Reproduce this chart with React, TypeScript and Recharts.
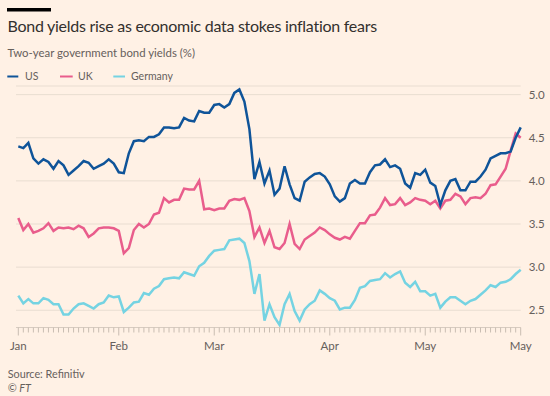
import { LineChart, Line, XAxis, YAxis, CartesianGrid } from 'recharts';

// business days shown on the axis (2023)
const janDays = [3, 4, 5, 6, 9, 10, 11, 12, 13, 17, 18, 19, 20, 23, 24, 25, 26, 27, 30, 31];
const febDays = [1, 2, 3, 6, 7, 8, 9, 10, 13, 14, 15, 16, 17, 21, 22, 23, 24, 27, 28];
const marDays = [1, 2, 3, 6, 7, 8, 9, 10, 13, 14, 15, 16, 17, 20, 21, 22, 23, 24, 27, 28, 29, 30, 31];
const aprDays = [3, 4, 5, 6, 10, 11, 12, 13, 14, 17, 18, 19, 20, 21, 24, 25, 26, 27, 28];
const mayDays = [1, 2, 3, 4, 5, 8, 9, 10, 11, 12, 15, 16, 17, 18, 19, 22, 23, 24, 25, 26];

const monthNames = ['Jan', 'Feb', 'Mar', 'Apr', 'May'];

// two-year yields, %
const usYield = [
  4.40, 4.38, 4.44, 4.26, 4.20, 4.25, 4.22, 4.14, 4.23, 4.18, 4.07, 4.12, 4.17, 4.23, 4.21, 4.14, 4.17, 4.20, 4.25, 4.20,
  4.10, 4.09, 4.32, 4.46, 4.47, 4.46, 4.51, 4.51, 4.54, 4.62, 4.62, 4.61, 4.62, 4.73, 4.70, 4.69, 4.81, 4.79, 4.79,
  4.88, 4.89, 4.85, 4.89, 5.02, 5.06, 4.92, 4.60, 4.02, 4.22, 3.97, 4.12, 3.84, 3.91, 4.17, 3.96, 3.80, 3.77,
  3.99, 4.04, 4.08, 4.09, 4.05,
  3.96, 3.82, 3.76, 3.80, 3.97, 4.01, 3.97, 3.97, 4.10, 4.18, 4.19, 4.25, 4.16, 4.18, 4.14, 3.97, 3.92, 4.09, 4.07,
  4.13, 3.98, 3.94, 3.72, 3.89, 4.00, 4.02, 3.89, 3.89, 3.99, 3.99, 4.05, 4.13, 4.26, 4.29, 4.32, 4.32, 4.34, 4.50, 4.62,
];
const ukYield = [
  3.57, 3.43, 3.50, 3.40, 3.42, 3.45, 3.51, 3.42, 3.46, 3.45, 3.46, 3.44, 3.48, 3.45, 3.35, 3.39, 3.45, 3.46, 3.46, 3.45,
  3.42, 3.16, 3.22, 3.43, 3.50, 3.46, 3.50, 3.61, 3.63, 3.80, 3.75, 3.78, 3.78, 3.91, 3.90, 3.90, 4.00, 3.67, 3.68,
  3.66, 3.68, 3.68, 3.77, 3.79, 3.78, 3.80, 3.65, 3.35, 3.46, 3.28, 3.42, 3.23, 3.21, 3.28, 3.50, 3.27, 3.21,
  3.32, 3.36, 3.40, 3.46, 3.43,
  3.38, 3.34, 3.32, 3.35, 3.33, 3.42, 3.51, 3.51, 3.60, 3.61, 3.69, 3.80, 3.72, 3.73, 3.80, 3.72, 3.75, 3.80, 3.78,
  3.77, 3.73, 3.77, 3.68, 3.77, 3.78, 3.85, 3.82, 3.73, 3.80, 3.81, 3.80, 3.85, 3.95, 3.96, 4.05, 4.14, 4.35, 4.55, 4.50,
];
const deYield = [
  2.67, 2.58, 2.63, 2.58, 2.58, 2.64, 2.62, 2.57, 2.57, 2.45, 2.45, 2.52, 2.57, 2.58, 2.55, 2.52, 2.57, 2.59, 2.67, 2.65,
  2.66, 2.48, 2.53, 2.59, 2.60, 2.70, 2.68, 2.75, 2.78, 2.86, 2.87, 2.88, 2.87, 2.94, 2.92, 2.90, 3.01, 3.05, 3.13,
  3.19, 3.20, 3.21, 3.31, 3.32, 3.33, 3.28, 3.07, 2.69, 2.92, 2.38, 2.57, 2.42, 2.33, 2.57, 2.69, 2.49, 2.38,
  2.51, 2.57, 2.61, 2.73, 2.69,
  2.64, 2.61, 2.51, 2.53, 2.53, 2.62, 2.76, 2.78, 2.84, 2.85, 2.86, 2.93, 2.88, 2.92, 2.95, 2.82, 2.77, 2.83, 2.72,
  2.72, 2.67, 2.69, 2.53, 2.60, 2.65, 2.65, 2.61, 2.57, 2.61, 2.63, 2.68, 2.73, 2.79, 2.77, 2.82, 2.83, 2.86, 2.92, 2.97,
];

const yTicks = [2.5, 3.0, 3.5, 4.0, 4.5, 5.0];

const FONT = 'Lato, "Open Sans", sans-serif';
const GREY = '#66605c';
const COLORS = { us: '#0f5499', uk: '#e95d8c', de: '#75d3e2' };

// categorie + label del mese sul primo giorno
const dates: string[] = [];
const monthLabel: Record<string, string> = {};
[janDays, febDays, marDays, aprDays, mayDays].forEach((days, m) => {
  days.forEach((d, k) => {
    const key = `2023-${String(m + 1).padStart(2, '0')}-${String(d).padStart(2, '0')}`;
    dates.push(key);
    if (k === 0) monthLabel[key] = monthNames[m];
  });
});
// ultimo giorno etichettato anche lui
monthLabel[dates[dates.length - 1]] = 'May';

const rows = dates.map((date, i) => ({ date, us: usYield[i], uk: ukYield[i], de: deYield[i] }));

function DayTick(props: any) {
  const { x, y, payload } = props;
  const label = monthLabel[payload.value];
  return (
    <g>
      <line x1={x} x2={x} y1={y} y2={y + (label ? 8 : 5)} stroke="#c9bdb2" strokeWidth={1} />
      {label && (
        <text x={x} y={y + 22} textAnchor="middle" fontSize={11.5} fill={GREY} fontFamily={FONT}>
          {label}
        </text>
      )}
    </g>
  );
}

export default function App() {
  return (
    <div style={{ position: 'relative', width: 550, height: 396, background: '#fff1e5', overflow: 'hidden' }}>
      <style>{'body{margin:0}'}</style>
      <LineChart
        width={550}
        height={396}
        data={rows}
        margin={{ top: 86, right: 0, bottom: 38.5, left: 16 }}
        style={{ position: 'absolute', left: 0, top: 0 }}
      >
        <CartesianGrid vertical={false} stroke="#e9ddd1" strokeWidth={1} />
        <XAxis
          dataKey="date"
          interval={0}
          tick={<DayTick />}
          tickLine={false}
          tickSize={0}
          tickMargin={0}
          height={30}
          padding={{ left: 2.3, right: 0 }}
          axisLine={{ stroke: '#d8ccc1' }}
        />
        <YAxis
          orientation="right"
          domain={[2.3, 5.1]}
          ticks={yTicks}
          width={29.3}
          axisLine={false}
          tickLine={false}
          tickFormatter={(v: number) => v.toFixed(1)}
          tick={{ fontSize: 11.5, fill: GREY, fontFamily: FONT }}
        />
        <Line dataKey="de" stroke={COLORS.de} strokeWidth={2.5} dot={false} isAnimationActive={false} />
        <Line dataKey="uk" stroke={COLORS.uk} strokeWidth={2.5} dot={false} isAnimationActive={false} />
        <Line dataKey="us" stroke={COLORS.us} strokeWidth={2.5} dot={false} isAnimationActive={false} />
      </LineChart>

      {/* testi sopra il grafico */}
      <svg width={550} height={396} style={{ position: 'absolute', left: 0, top: 0, pointerEvents: 'none' }}>
        <rect x={7} y={8} width={44} height={3.5} fill="#000" />
        <text x={7.5} y={32.3} fontSize={16} letterSpacing={-0.27} fill="#33302e" fontFamily={FONT}>
          Bond yields rise as economic data stokes inflation fears
        </text>
        <text x={7.5} y={56.5} fontSize={11.4} fill={GREY} fontFamily={FONT}>
          Two-year government bond yields (%)
        </text>
        <line x1={7.3} x2={18.3} y1={76.5} y2={76.5} stroke={COLORS.us} strokeWidth={2} />
        <text x={25} y={80.3} fontSize={10.5} fill={GREY} fontFamily={FONT}>US</text>
        <line x1={60} x2={72.7} y1={76.5} y2={76.5} stroke={COLORS.uk} strokeWidth={2} />
        <text x={78} y={80.3} fontSize={10.5} fill={GREY} fontFamily={FONT}>UK</text>
        <line x1={113.3} x2={125} y1={76.5} y2={76.5} stroke={COLORS.de} strokeWidth={2} />
        <text x={131} y={80.3} fontSize={10.5} fill={GREY} fontFamily={FONT}>Germany</text>
        <text x={7.7} y={378} fontSize={10.8} fill={GREY} fontFamily={FONT}>Source: Refinitiv</text>
        <text x={7.7} y={391.5} fontSize={10.8} fill={GREY} fontFamily={FONT} fontStyle="italic">© FT</text>
      </svg>
    </div>
  );
}
